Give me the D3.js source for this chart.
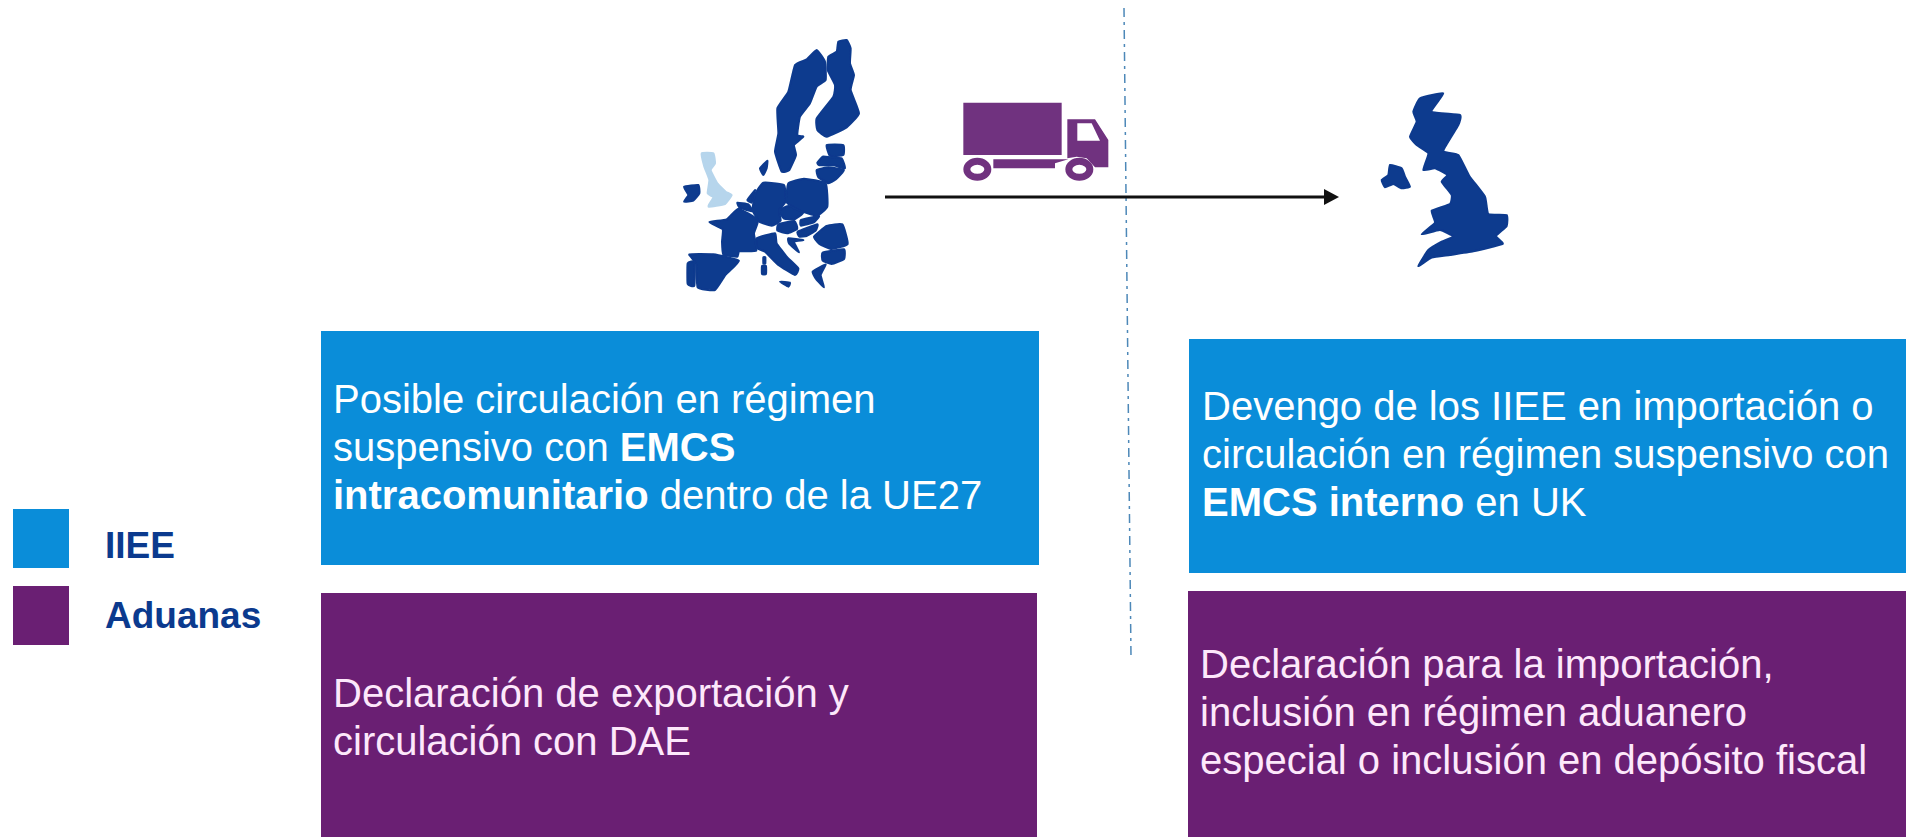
<!DOCTYPE html>
<html>
<head>
<meta charset="utf-8">
<script src="https://cdn.jsdelivr.net/npm/d3@7"></script>
<style>
  html, body { margin: 0; padding: 0; background: #fff; overflow: hidden; }
  text { font-family: "Liberation Sans", Arial, sans-serif; }
</style>
</head>
<body>
<div id="chart"></div>
<script>
// Legend
const legendLabels = ['IIEE', 'Aduanas'];

// Box texts: each line is a list of [text, bold]
const boxEuIiee = [
    [['Posible circulación en régimen', false]],
    [['suspensivo con ', false], ['EMCS', true]],
    [['intracomunitario', true], [' dentro de la UE27', false]]
];
const boxEuAduanas = [
    [['Declaración de exportación y', false]],
    [['circulación con DAE', false]]
];
const boxUkIiee = [
    [['Devengo de los IIEE en importación o', false]],
    [['circulación en régimen suspensivo con', false]],
    [['EMCS interno', true], [' en UK', false]]
];
const boxUkAduanas = [
    [['Declaración para la importación,', false]],
    [['inclusión en régimen aduanero', false]],
    [['especial o inclusión en depósito fiscal', false]]
];

// Outlines, in crop units (3 units = 1 px)
const sweden = [[470,90],[495,125],[497,180],[470,200],[450,250],[420,290],[412,345],[430,350],[402,375],[408,405],[388,450],[365,455],[345,395],[355,340],[352,265],[385,215],[405,135],[440,118]];
const finland = [[505,110],[530,95],[535,65],[560,60],[572,85],[570,130],[582,165],[572,210],[597,280],[560,322],[500,350],[472,330],[470,295],[520,230],[525,195],[503,150]];
const estonia = [[500,375],[550,375],[550,405],[510,408]];
const latvia = [[472,428],[488,410],[510,412],[545,415],[555,445],[520,436],[478,436]];
const lithuania = [[470,450],[505,442],[552,450],[528,478],[505,490],[475,472]];
const gotland = [[300,445],[322,422],[320,445],[310,465]];
const ireland = [[72,500],[115,495],[118,520],[100,542],[72,545],[85,525]];
const britainSmall = [[125,400],[160,400],[165,430],[152,450],[172,490],[197,515],[215,525],[195,552],[145,560],[160,532],[143,520],[148,480],[133,440]];
const denmark = [[262,540],[285,510],[280,530],[275,548]];
const benelux = [[232,548],[265,553],[278,574],[240,564]];
const germany = [[310,488],[372,495],[377,545],[357,570],[362,602],[335,617],[298,605],[278,570],[285,523]];
const poland = [[385,490],[432,476],[497,490],[502,560],[470,587],[420,572],[380,547]];
const czechia = [[357,572],[385,558],[430,578],[403,598],[372,596]];
const austria = [[355,613],[403,603],[412,626],[382,640],[352,632]];
const slovakia = [[423,600],[477,588],[462,607],[423,617]];
const hungary = [[413,635],[472,613],[467,632],[440,648],[418,650]];
const romania = [[462,650],[500,618],[547,613],[563,672],[515,687],[478,672]];
const bulgaria = [[488,698],[552,688],[552,717],[515,732],[488,722]];
const greece = [[458,755],[497,733],[482,765],[492,802],[468,777]];
const italy = [[290,655],[345,640],[350,670],[380,710],[415,745],[405,765],[355,735],[315,695],[292,685]];
const croatia = [[385,655],[430,660],[402,665],[417,697],[388,672]];
const france = [[148,606],[200,598],[235,566],[294,600],[282,640],[289,692],[238,694],[232,710],[190,704],[186,665],[188,628]];
const spain = [[88,703],[160,703],[237,722],[197,764],[165,810],[113,802],[108,730]];
const portugal = [[83,730],[104,726],[103,797],[83,792]];
const corsica = [[310,712],[316,712],[316,730],[310,730]];
const sardinia = [[306,738],[318,738],[318,762],[306,762]];
const sicily = [[360,785],[390,788],[385,800]];
const euCountries = [sweden, finland, estonia, latvia, lithuania, gotland, ireland, denmark, benelux, germany, poland, czechia, austria, slovakia, hungary, romania, bulgaria, greece, italy, croatia, france, spain, portugal, corsica, sardinia, sicily];

const ukMain = [[250,40],[215,95],[300,105],[295,135],[250,212],[295,225],[328,288],[375,350],[385,402],[440,405],[440,438],[408,468],[428,492],[340,514],[270,525],[215,533],[175,558],[205,510],[245,485],[280,470],[240,450],[185,463],[225,428],[215,392],[270,372],[275,345],[245,305],[262,285],[225,265],[190,270],[205,220],[170,195],[150,170],[170,125],[160,95],[180,55]];
const ukIreland = [[90,255],[125,265],[135,290],[150,320],[125,325],[100,312],[75,322],[65,300],[85,285]];

const truckBody = [[70,68],[365,68],[365,225],[70,225]];
const truckChassis = [[160,238],[385,238],[345,250],[345,265],[160,265]];
const truckCab = [[382,118],[465,118],[505,180],[505,262],[465,262],[440,235],[410,230],[382,235]];
const truckWindow = [[412,130],[455,130],[480,182],[412,182]];
const truckWheels = [[112,268],[418,268]];

const svgWidth = 1906;
const svgHeight = 837;

const navy = '#0b3a8e';
const blue = '#0a8dd9';
const purple = '#6a1f73';

const svg = d3.select('#chart')
    .append('svg')
    .attr('width', svgWidth)
    .attr('height', svgHeight);

svg.append('defs').append('filter')
    .attr('id', 'soft')
    .append('feGaussianBlur')
    .attr('stdDeviation', 0.7);

// crop units -> page px
function cropLine(originX, originY, curve) {
    const x = d3.scaleLinear().domain([0, 3]).range([originX, originX + 1]);
    const y = d3.scaleLinear().domain([0, 3]).range([originY, originY + 1]);
    return d3.line().x(d => x(d[0])).y(d => y(d[1])).curve(curve);
}

const mapCurve = d3.curveCardinalClosed.tension(0.6);

// Maps
const euLine = cropLine(660, 20, mapCurve);
const euMap = svg.append('g').attr('filter', 'url(#soft)');
euMap.selectAll('path.country')
    .data(euCountries)
    .enter()
    .append('path')
    .attr('class', 'country')
    .attr('d', euLine)
    .attr('fill', navy)
    .attr('stroke', navy)
    .attr('stroke-width', 2)
    .attr('stroke-linejoin', 'round');
euMap.append('path')
    .attr('d', euLine(britainSmall))
    .attr('fill', '#b6d5ec')
    .attr('stroke', '#b6d5ec')
    .attr('stroke-width', 2)
    .attr('stroke-linejoin', 'round');

const ukLine = cropLine(1360, 80, mapCurve);
svg.append('g')
    .attr('filter', 'url(#soft)')
    .selectAll('path')
    .data([ukMain, ukIreland])
    .enter()
    .append('path')
    .attr('d', ukLine)
    .attr('fill', navy)
    .attr('stroke', navy)
    .attr('stroke-width', 2)
    .attr('stroke-linejoin', 'round');

// Truck
const truckLine = cropLine(940, 80, d3.curveLinearClosed);
const truck = svg.append('g').attr('filter', 'url(#soft)');
truck.selectAll('path.part')
    .data([truckBody, truckChassis, truckCab])
    .enter()
    .append('path')
    .attr('class', 'part')
    .attr('d', truckLine)
    .attr('fill', '#70307f');
truck.append('path')
    .attr('d', truckLine(truckWindow))
    .attr('fill', '#fff');
truck.selectAll('ellipse')
    .data(truckWheels)
    .enter()
    .append('ellipse')
    .attr('cx', d => 940 + d[0] / 3)
    .attr('cy', d => 80 + d[1] / 3)
    .attr('rx', 10.5)
    .attr('ry', 8)
    .attr('fill', '#fff')
    .attr('stroke', '#70307f')
    .attr('stroke-width', 7);

// Frontier line
svg.append('line')
    .attr('x1', 1124)
    .attr('y1', 8)
    .attr('x2', 1131)
    .attr('y2', 657)
    .attr('stroke', '#4d88b8')
    .attr('stroke-width', 1.5)
    .attr('stroke-dasharray', '9 5 3 5');

// Arrow
svg.append('line')
    .attr('x1', 885)
    .attr('y1', 197)
    .attr('x2', 1326)
    .attr('y2', 197)
    .attr('stroke', '#111')
    .attr('stroke-width', 3);
svg.append('path')
    .attr('d', d3.line()([[1324, 189], [1339, 197], [1324, 205]]))
    .attr('fill', '#111');

// Boxes
const boxes = [
    { x: 321, y: 331, w: 718, h: 234, fill: blue, lines: boxEuIiee, tx: 333, ty: 413, color: '#fff' },
    { x: 321, y: 593, w: 716, h: 244, fill: purple, lines: boxEuAduanas, tx: 333, ty: 707, color: '#fde8fb' },
    { x: 1189, y: 339, w: 717, h: 234, fill: blue, lines: boxUkIiee, tx: 1202, ty: 420, color: '#fff' },
    { x: 1188, y: 591, w: 718, h: 246, fill: purple, lines: boxUkAduanas, tx: 1200, ty: 678, color: '#fde8fb' }
];

svg.selectAll('rect.box')
    .data(boxes)
    .enter()
    .append('rect')
    .attr('class', 'box')
    .attr('x', d => d.x)
    .attr('y', d => d.y)
    .attr('width', d => d.w)
    .attr('height', d => d.h)
    .attr('fill', d => d.fill);

boxes.forEach(box => {
    box.lines.forEach((line, i) => {
        const t = svg.append('text')
            .attr('x', box.tx)
            .attr('y', box.ty + i * 48)
            .attr('fill', box.color)
            .style('font-size', '40px');
        line.forEach(seg => {
            t.append('tspan')
                .attr('font-weight', seg[1] ? 'bold' : 'normal')
                .text(seg[0]);
        });
    });
});

// Legend
const legendY = d3.scaleBand().domain(legendLabels).range([509, 645]).paddingInner(0.234);
const legendTextY = d3.scalePoint().domain(legendLabels).range([558, 628]);
const legendColor = d3.scaleOrdinal().domain(legendLabels).range([blue, purple]);

svg.selectAll('rect.legend')
    .data(legendLabels)
    .enter()
    .append('rect')
    .attr('class', 'legend')
    .attr('x', 13)
    .attr('y', d => legendY(d))
    .attr('width', 56)
    .attr('height', legendY.bandwidth())
    .attr('fill', d => legendColor(d));

svg.selectAll('text.legend')
    .data(legendLabels)
    .enter()
    .append('text')
    .attr('class', 'legend')
    .attr('x', 105)
    .attr('y', d => legendTextY(d))
    .attr('fill', navy)
    .attr('font-weight', 'bold')
    .style('font-size', '37px')
    .text(d => d);
</script>
</body>
</html>
